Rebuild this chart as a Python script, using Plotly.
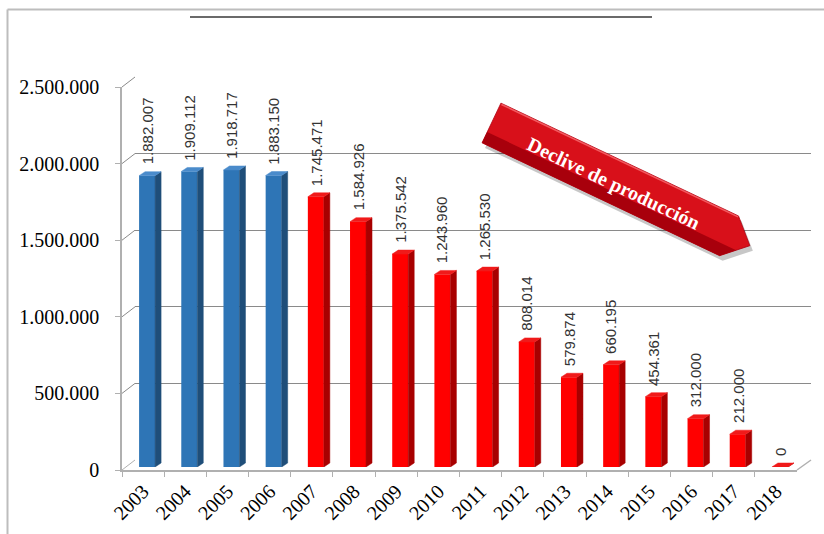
import math
import plotly.graph_objects as go

# ---- data -------------------------------------------------------------
years = [2003, 2004, 2005, 2006, 2007, 2008, 2009, 2010,
         2011, 2012, 2013, 2014, 2015, 2016, 2017, 2018]
production = [1882007, 1909112, 1918717, 1883150, 1745471, 1584926,
              1375542, 1243960, 1265530, 808014, 579874, 660195,
              454361, 312000, 212000, 0]
tick_values = [0, 500000, 1000000, 1500000, 2000000, 2500000]
tick_labels = ["0", "500.000", "1.000.000", "1.500.000", "2.000.000", "2.500.000"]
arrow_label = "Declive de producción"

# ---- geometry helpers (pixel -> paper) --------------------------------
W, H = 824, 534


def fx(p):
    return p / W


def fy(p):
    return 1 - p / H


YMAX = tick_values[-1]
FRONT_X, FRONT_Y = (122, 797), (470, 87)   # front edge of the floor / y axis
BACK_X, BACK_Y = (135, 811), (460, 77)     # back wall
BAR_X, BAR_Y = (126, 801), (467, 80)       # plane of the bars' front faces

BLUE = dict(front="#2E75B6", side="#1F4E79", top="#4A8BCB")
RED = dict(front="#FF0000", side="#A80000", top="#F01A1A")
GRID = "#8A8A8A"
FLOOR = "#B0B0B0"


def palette(year):
    return BLUE if year <= 2006 else RED


def fmt(v):
    return f"{v:,}".replace(",", ".")


n = len(years)
cat_px = (BAR_X[1] - BAR_X[0]) / n
bar_w = 16 / cat_px
dx = 6 / cat_px
dy = 4 * YMAX / (BAR_Y[0] - BAR_Y[1])

fig = go.Figure()

# axis anchors for the front labelled axes and the back wall grid
cats = [str(y) for y in years]
fig.add_trace(go.Scatter(x=cats, y=production, mode="markers",
                         marker=dict(opacity=0), hoverinfo="skip",
                         showlegend=False, xaxis="x", yaxis="y"))
fig.add_trace(go.Scatter(x=years, y=production, mode="markers",
                         marker=dict(opacity=0), hoverinfo="skip",
                         showlegend=False, xaxis="x2", yaxis="y2"))

# side and top faces of each bar
for pal in (BLUE, RED):
    sx, sy, tx, ty = [], [], [], []
    for yr, v in zip(years, production):
        if palette(yr) is not pal:
            continue
        l, r = yr - bar_w / 2, yr + bar_w / 2
        sx += [r, r, r + dx, r + dx, r, None]
        sy += [0, v, v + dy, dy, 0, None]
        tx += [l, r, r + dx, l + dx, l, None]
        ty += [v, v, v + dy, v + dy, v, None]
    fig.add_trace(go.Scatter(x=sx, y=sy, mode="lines", fill="toself",
                             fillcolor=pal["side"],
                             line=dict(width=0.5, color=pal["side"]),
                             hoverinfo="skip", showlegend=False,
                             xaxis="x3", yaxis="y3"))
    fig.add_trace(go.Scatter(x=tx, y=ty, mode="lines", fill="toself",
                             fillcolor=pal["top"],
                             line=dict(width=0.5, color=pal["top"]),
                             hoverinfo="skip", showlegend=False,
                             xaxis="x3", yaxis="y3"))

# front faces
fig.add_trace(go.Bar(x=years, y=production, width=bar_w,
                     marker=dict(color=[palette(y)["front"] for y in years],
                                 line=dict(width=0)),
                     hoverinfo="skip", showlegend=False,
                     xaxis="x3", yaxis="y3"))

# value labels
annotations = []
for yr, v in zip(years, production):
    annotations.append(dict(
        x=yr, y=v, xref="x3", yref="y3", text=fmt(v), textangle=-90,
        showarrow=False, xanchor="center", yanchor="bottom", yshift=9,
        font=dict(family="Liberation Sans, Arial", size=15, color="#333333")))

# ---- arrow callout ----------------------------------------------------
ang = math.radians(25.4)
ux, uy = math.cos(ang), math.sin(ang)
nx, ny = -uy, ux
c0 = (491.5, 123.0)
half, body, tip = 22, 263, 286


def pt(a, b):
    return (c0[0] + a * ux + b * nx, c0[1] + a * uy + b * ny)


def path(points, off=(0, 0)):
    s = ""
    for i, (x, y) in enumerate(points):
        s += ("M" if i == 0 else "L") + f"{fx(x + off[0]):.5f},{fy(y + off[1]):.5f} "
    return s + "Z"


arrow = [pt(0, -half), pt(body, -half), pt(tip, 0), pt(body, half), pt(0, half)]
# darker lower band following the arrow outline
lower = [pt(0, 10), pt(body + (tip - body) * (1 - 10 / half), 10),
         pt(body, half), pt(0, half)]
highlight = [pt(1, -half + 1), pt(body, -half + 1)]

shapes = []
shapes.append(dict(type="path", xref="paper", yref="paper",
                   path=path(arrow, (3, 5)), fillcolor="rgba(0,0,0,0.22)",
                   line=dict(width=0), layer="above"))
shapes.append(dict(type="path", xref="paper", yref="paper",
                   path=path(arrow), fillcolor="#D8101A",
                   line=dict(width=0.8, color="#B00010"), layer="above"))
shapes.append(dict(type="path", xref="paper", yref="paper",
                   path=path(lower), fillcolor="#A8000C",
                   line=dict(width=0), layer="above"))
shapes.append(dict(type="line", xref="paper", yref="paper",
                   x0=fx(highlight[0][0]), y0=fy(highlight[0][1]),
                   x1=fx(highlight[1][0]), y1=fy(highlight[1][1]),
                   line=dict(width=1.5, color="#F25A60"), layer="above"))
annotations.append(dict(
    x=fx(613), y=fy(184), xref="paper", yref="paper", text=f"<b>{arrow_label}</b>",
    textangle=25.4, showarrow=False, xanchor="center", yanchor="middle",
    font=dict(family="Liberation Serif, Times New Roman", size=20, color="white")))

# ---- 3D frame: connectors between front axis and back wall -------------
for v in tick_values:
    yf = FRONT_Y[0] - v / YMAX * (FRONT_Y[0] - FRONT_Y[1])
    yb = BACK_Y[0] - v / YMAX * (BACK_Y[0] - BACK_Y[1])
    shapes.append(dict(type="line", xref="paper", yref="paper",
                       x0=fx(FRONT_X[0]), y0=fy(yf), x1=fx(BACK_X[0]), y1=fy(yb),
                       line=dict(width=1, color=FLOOR if v == 0 else GRID),
                       layer="below"))
shapes.append(dict(type="line", xref="paper", yref="paper",
                   x0=fx(FRONT_X[1]), y0=fy(FRONT_Y[0]),
                   x1=fx(BACK_X[1]), y1=fy(BACK_Y[0]),
                   line=dict(width=1.5, color=FLOOR), layer="below"))

# title rule and outer border
shapes.append(dict(type="line", xref="paper", yref="paper",
                   x0=fx(190), y0=fy(17), x1=fx(652), y1=fy(17),
                   line=dict(width=2, color="#6A6A6A")))
shapes.append(dict(type="line", xref="paper", yref="paper",
                   x0=fx(7.5), y0=fy(9.5), x1=fx(830), y1=fy(9.5),
                   line=dict(width=2, color="#BDBDBD")))
shapes.append(dict(type="line", xref="paper", yref="paper",
                   x0=fx(7.5), y0=fy(9.5), x1=fx(7.5), y1=fy(540),
                   line=dict(width=2, color="#BDBDBD")))

serif = "Liberation Serif, Times New Roman, serif"

fig.update_layout(
    width=W, height=H,
    margin=dict(l=0, r=0, t=0, b=0, pad=0, autoexpand=False),
    paper_bgcolor="white", plot_bgcolor="rgba(0,0,0,0)",
    showlegend=False,
    xaxis=dict(domain=[fx(FRONT_X[0]), fx(FRONT_X[1])], anchor="y",
               type="category", categoryorder="array", categoryarray=cats,
               range=[-0.5, n - 0.5], tickson="boundaries", automargin=False,
               ticks="outside", ticklen=5, tickcolor=FLOOR, tickwidth=1,
               showline=True, linecolor=FLOOR, linewidth=1.5,
               showgrid=False, zeroline=False, tickangle=-45,
               tickfont=dict(family=serif, size=20, color="black")),
    yaxis=dict(domain=[fy(FRONT_Y[0]), fy(FRONT_Y[1])], anchor="x",
               range=[0, YMAX], tickmode="array", tickvals=tick_values,
               ticktext=tick_labels, ticks="outside", ticklen=5, automargin=False,
               tickcolor=FLOOR, showline=True, linecolor=FLOOR, linewidth=1.5,
               showgrid=False, zeroline=False, ticklabelstandoff=12,
               tickfont=dict(family=serif, size=20, color="black")),
    xaxis2=dict(domain=[fx(BACK_X[0]), fx(BACK_X[1])], anchor="y2",
                range=[2002.5, 2018.5], visible=False, automargin=False),
    yaxis2=dict(domain=[fy(BACK_Y[0]), fy(BACK_Y[1])], anchor="x2",
                range=[0, YMAX], tickmode="array", tickvals=tick_values,
                showticklabels=False, ticks="", showgrid=True, automargin=False,
                gridcolor=GRID, gridwidth=1, zeroline=False, showline=False),
    xaxis3=dict(domain=[fx(BAR_X[0]), fx(BAR_X[1])], anchor="y3",
                range=[years[0] - 0.5, years[-1] + 0.5], visible=False,
                automargin=False),
    yaxis3=dict(domain=[fy(BAR_Y[0]), fy(BAR_Y[1])], anchor="x3",
                range=[0, YMAX], visible=False, automargin=False),
    shapes=shapes,
    annotations=annotations,
)

fig.write_html("out.html")
